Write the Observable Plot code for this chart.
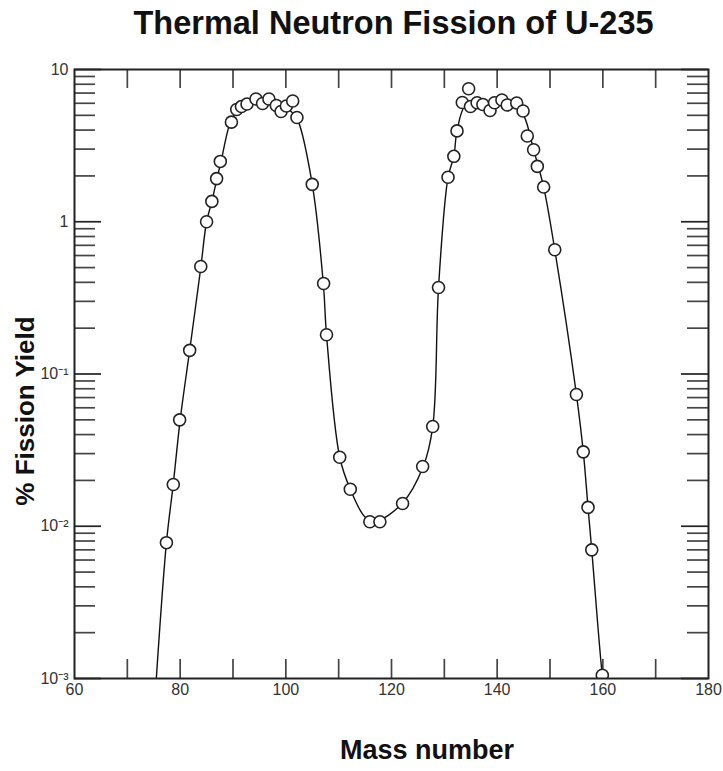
<!DOCTYPE html>
<html>
<head>
<meta charset="utf-8">
<script src="https://cdn.jsdelivr.net/npm/d3@7"></script>
<script src="https://cdn.jsdelivr.net/npm/@observablehq/plot@0.6"></script>
<style>
  html, body { margin: 0; padding: 0; background: #fff; }
  #wrap { position: relative; width: 723px; height: 771px; font-family: "Liberation Sans", Arial, Helvetica, sans-serif; }
  #title { position: absolute; left: 32px; top: 0; width: 723px; height: 46px; line-height: 46px; text-align: center; font-weight: bold; font-size: 32.5px; color: #111; }
  #chart { position: absolute; left: 0; top: 48px; }
  #xlabel { position: absolute; left: 227px; top: 734px; width: 400px; height: 32px; line-height: 32px; text-align: center; font-weight: bold; font-size: 27px; color: #111; }
  #ylabel { position: absolute; left: -125px; top: 395px; width: 300px; height: 32px; line-height: 32px; text-align: center; font-weight: bold; font-size: 26px; color: #111; transform: rotate(-90deg); }
</style>
</head>
<body>
<div id="wrap">
  <div id="title">Thermal Neutron Fission of U-235</div>
  <div id="chart"></div>
  <div id="xlabel">Mass number</div>
  <div id="ylabel">% Fission Yield</div>
</div>
<script>
// Measured data points (mass number, % yield)
const massPts  = [77.4, 78.7, 79.9, 81.8, 83.9, 85.0, 86.0, 86.9, 87.6, 89.7, 90.7, 91.6, 92.65, 94.35, 95.6, 96.8, 98.2, 99.1, 100.1, 101.3, 102.1, 105.0, 107.15, 107.7, 110.2, 112.2, 115.9, 117.8, 122.1, 125.9, 127.8, 128.9, 130.7, 131.8, 132.4, 133.4, 134.6, 134.95, 136.2, 137.3, 138.65, 139.5, 140.9, 141.9, 143.7, 144.9, 145.7, 146.9, 147.6, 148.8, 150.9, 155.0, 156.3, 157.2, 157.9, 159.9];
const yieldPts = [0.0078, 0.0188, 0.050, 0.143, 0.508, 1.0, 1.36, 1.92, 2.49, 4.51, 5.46, 5.71, 5.93, 6.40, 5.98, 6.40, 5.80, 5.30, 5.76, 6.21, 4.84, 1.76, 0.393, 0.181, 0.0284, 0.0175, 0.0107, 0.0107, 0.0141, 0.0247, 0.0452, 0.37, 1.96, 2.69, 3.95, 6.07, 7.47, 5.71, 6.05, 5.89, 5.38, 6.05, 6.30, 5.85, 6.03, 5.34, 3.66, 2.97, 2.31, 1.69, 0.655, 0.0733, 0.0308, 0.0133, 0.0070, 0.00105];

// Smooth fitted curve
const massCurve  = [75.3, 77.4, 78.7, 80.0, 81.8, 83.9, 85.0, 86.0, 87.0, 87.7, 89.5, 91.0, 93.0, 95.0, 97.0, 99.0, 101.0, 102.2, 105.0, 107.1, 107.7, 110.2, 112.2, 115.0, 117.0, 122.0, 126.0, 127.8, 128.9, 130.7, 131.8, 132.4, 134.0, 137.0, 140.0, 143.0, 145.0, 146.9, 148.8, 150.9, 155.0, 156.3, 157.2, 157.9, 159.9, 160.4];
const yieldCurve = [0.0008, 0.0078, 0.019, 0.05, 0.143, 0.5, 1.0, 1.36, 1.95, 2.45, 4.5, 5.5, 6.1, 6.3, 6.2, 5.9, 5.3, 4.7, 1.76, 0.39, 0.181, 0.0284, 0.0175, 0.0115, 0.0108, 0.0141, 0.0247, 0.045, 0.37, 1.96, 2.69, 3.95, 5.8, 6.1, 6.1, 5.9, 5.0, 2.97, 1.69, 0.655, 0.0733, 0.0308, 0.0133, 0.007, 0.00105, 0.0008];

// Axis ticks
const xLabelTicks = [60, 80, 100, 120, 140, 160, 180];
const xTicks = [70, 80, 90, 100, 110, 120, 130, 140, 150, 160, 170];
const yMajorTicks = [0.001, 0.01, 0.1, 1, 10];
const yTickLabels = ["10⁻³", "10⁻²", "10⁻¹", "1", "10"];
const yMinorTicks = [2, 3, 4, 5, 6, 7, 8, 9].flatMap(m => [0.001, 0.01, 0.1, 1].map(p => m * p));

const points = massPts.map((m, i) => ({mass: m, y: yieldPts[i]}));
const curve = massCurve.map((m, i) => ({mass: m, y: yieldCurve[i]}));

const W = 723, H = 723, mT = 21, mB = 93, mL = 74, mR = 15;
const fW = W - mL - mR, fH = H - mT - mB;
const xTickLen = 19, yMajLen = 27, yMinLen = 21;
const tickColor = "#444";

const chart = Plot.plot({
  width: W,
  height: H,
  marginTop: mT,
  marginBottom: mB,
  marginLeft: mL,
  marginRight: mR,
  style: {fontFamily: "'Liberation Sans', Arial, Helvetica, sans-serif", fontSize: "16px", background: "#fff"},
  x: {type: "linear", domain: [60, 180], axis: null},
  y: {type: "log", domain: [0.001, 10], axis: null},
  marks: [
    // inward x ticks, bottom and top
    Plot.tickX(xTicks, {x: d => d, insetTop: fH - xTickLen, stroke: tickColor, strokeWidth: 1.7}),
    Plot.tickX(xTicks, {x: d => d, insetBottom: fH - xTickLen, stroke: tickColor, strokeWidth: 1.7}),
    // inward y ticks, left and right
    Plot.tickY(yMinorTicks, {y: d => d, insetRight: fW - yMinLen, stroke: tickColor, strokeWidth: 1.7}),
    Plot.tickY(yMinorTicks, {y: d => d, insetLeft: fW - yMinLen, stroke: tickColor, strokeWidth: 1.7}),
    Plot.tickY(yMajorTicks, {y: d => d, insetRight: fW - yMajLen, stroke: "#222", strokeWidth: 1.7}),
    Plot.tickY(yMajorTicks, {y: d => d, insetLeft: fW - yMajLen, stroke: "#222", strokeWidth: 1.7}),
    // tick labels
    Plot.text(xLabelTicks, {x: d => d, frameAnchor: "bottom", dy: 16, text: d => String(d), fontSize: 16, fill: "#333"}),
    Plot.text(yMajorTicks, {y: d => d, frameAnchor: "left", dx: -6, textAnchor: "end", text: (d, i) => yTickLabels[i], fontSize: 16, fill: "#333"}),
    Plot.line(curve, {x: "mass", y: "y", curve: "catmull-rom", stroke: "#111", strokeWidth: 1.4, clip: true}),
    Plot.dot(points, {x: "mass", y: "y", r: 6, fill: "white", stroke: "#222", strokeWidth: 1.6, clip: true}),
    Plot.frame({stroke: "#222", strokeWidth: 2})
  ]
});
document.getElementById("chart").appendChild(chart);
</script>
</body>
</html>
